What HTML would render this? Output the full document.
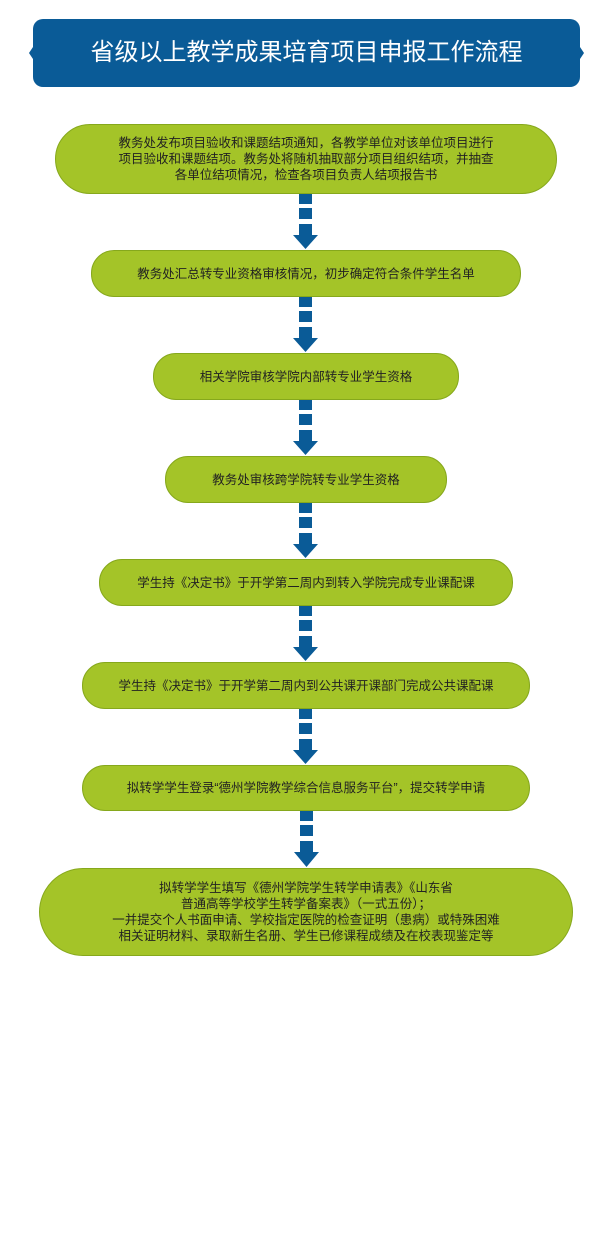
<!DOCTYPE html>
<html><head><meta charset="utf-8"><style>
body{margin:0;width:608px;height:1253px;background:#fff;position:relative;overflow:hidden;font-family:"Liberation Sans","Noto Sans CJK SC",sans-serif}
.hd{position:absolute;left:33px;top:19px;width:547px;height:68px;background:#0a5b97;border-radius:10px;color:#fff;font-size:24px;text-align:center;line-height:68px}
.b{position:absolute;background:#a4c428;border:1.5px solid #86a81c;box-sizing:border-box;display:flex;align-items:center;justify-content:center;text-align:center;font-size:12.5px;line-height:16px;color:#222}
svg{position:absolute;left:0;top:0}
</style></head><body>
<div class="hd">省级以上教学成果培育项目申报工作流程</div>
<svg width="608" height="1253">
<path d="M33 47 L29 53 L33 59Z M580 47 L584 53 L580 59Z" fill="#0a5b97"/>
</svg>
<div class="b" style="left:55px;top:124px;width:502px;height:70px;border-radius:35px">教务处发布项目验收和课题结项通知，各教学单位对该单位项目进行<br>项目验收和课题结项。教务处将随机抽取部分项目组织结项，并抽查<br>各单位结项情况，检查各项目负责人结项报告书</div>
<div class="b" style="left:91px;top:250px;width:430px;height:47px;border-radius:23px">教务处汇总转专业资格审核情况，初步确定符合条件学生名单</div>
<div class="b" style="left:153px;top:353px;width:306px;height:47px;border-radius:23px">相关学院审核学院内部转专业学生资格</div>
<div class="b" style="left:165px;top:456px;width:282px;height:47px;border-radius:23px">教务处审核跨学院转专业学生资格</div>
<div class="b" style="left:99px;top:559px;width:414px;height:47px;border-radius:23px">学生持《决定书》于开学第二周内到转入学院完成专业课配课</div>
<div class="b" style="left:82px;top:662px;width:448px;height:47px;border-radius:23px">学生持《决定书》于开学第二周内到公共课开课部门完成公共课配课</div>
<div class="b" style="left:82px;top:765px;width:448px;height:46px;border-radius:23px">拟转学学生登录“德州学院教学综合信息服务平台”，提交转学申请</div>
<div class="b" style="left:39px;top:868px;width:534px;height:88px;border-radius:44px">拟转学学生填写《德州学院学生转学申请表》《山东省<br>普通高等学校学生转学备案表》（一式五份）；<br>一并提交个人书面申请、学校指定医院的检查证明（患病）或特殊困难<br>相关证明材料、录取新生名册、学生已修课程成绩及在校表现鉴定等</div>
<svg width="608" height="1253" style="pointer-events:none">
<g fill="#0a5b97">
<g transform="translate(0,194)"><rect x="299" y="0" width="13" height="10"/><rect x="299" y="14" width="13" height="11"/><rect x="299" y="30" width="13" height="11"/><path d="M293 41 L318 41 L305.5 55Z"/></g>
<g transform="translate(0,297)"><rect x="299" y="0" width="13" height="10"/><rect x="299" y="14" width="13" height="11"/><rect x="299" y="30" width="13" height="11"/><path d="M293 41 L318 41 L305.5 55Z"/></g>
<g transform="translate(0,400)"><rect x="299" y="0" width="13" height="10"/><rect x="299" y="14" width="13" height="11"/><rect x="299" y="30" width="13" height="11"/><path d="M293 41 L318 41 L305.5 55Z"/></g>
<g transform="translate(0,503)"><rect x="299" y="0" width="13" height="10"/><rect x="299" y="14" width="13" height="11"/><rect x="299" y="30" width="13" height="11"/><path d="M293 41 L318 41 L305.5 55Z"/></g>
<g transform="translate(0,606)"><rect x="299" y="0" width="13" height="10"/><rect x="299" y="14" width="13" height="11"/><rect x="299" y="30" width="13" height="11"/><path d="M293 41 L318 41 L305.5 55Z"/></g>
<g transform="translate(0,709)"><rect x="299" y="0" width="13" height="10"/><rect x="299" y="14" width="13" height="11"/><rect x="299" y="30" width="13" height="11"/><path d="M293 41 L318 41 L305.5 55Z"/></g>
<g transform="translate(1,811)"><rect x="299" y="0" width="13" height="10"/><rect x="299" y="14" width="13" height="11"/><rect x="299" y="30" width="13" height="11"/><path d="M293 41 L318 41 L305.5 56Z"/></g>
</g>
</svg>
</body></html>
